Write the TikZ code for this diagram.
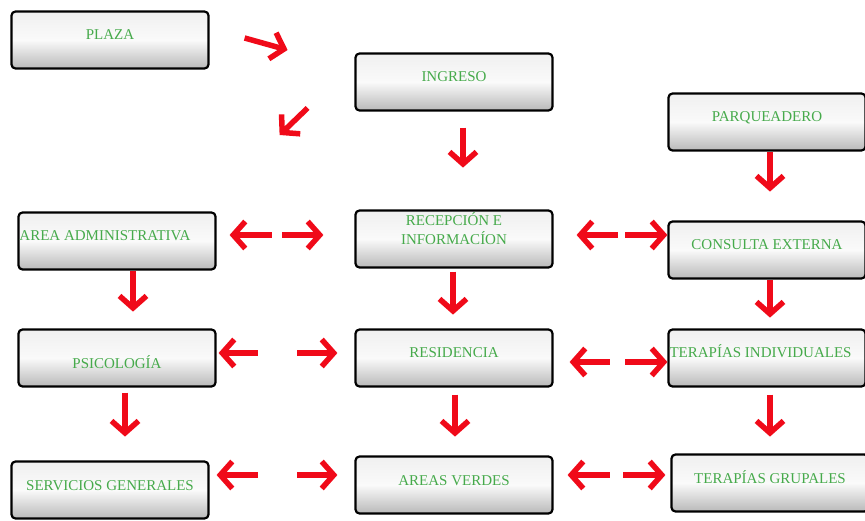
\documentclass[tikz,border=0pt]{standalone}
\usepackage{fontspec}
\setmainfont{Liberation Serif}
\usepackage{xcolor}
\usetikzlibrary{arrows.meta}
\definecolor{txtgreen}{RGB}{70,170,75}
\definecolor{arrred}{RGB}{240,10,25}

\begin{document}
\begin{tikzpicture}[x=1pt, y=-1pt,
  box/.style={draw=black, line width=2.2pt, rounded corners=4pt, minimum width=197pt, minimum height=57pt, inner sep=0pt,
    top color=gray!12, bottom color=gray!55, middle color=white!96!gray, text=txtgreen,
    font=\fontsize{15}{19}\selectfont, text height=11pt, text depth=11pt},
  flecha/.style={draw=arrred, line width=5.5pt, -{Straight Barb[length=12pt,width=27pt]}}]
\useasboundingbox (0,0) rectangle (865,521);

\node[box] (plaza) at (110,40) {PLAZA};
\node[box] (ingreso) at (454,82) {INGRESO};
\node[box] (parq) at (767,122) {PARQUEADERO};
\node[box, align=flush left, text width=195pt] (admin) at (117,241) {AREA ADMINISTRATIVA};
\node[box, align=center, text height=11pt, text depth=0pt] (recep) at (454,239) {RECEPCIÓN E\\INFORMACÍON};
\node[box] (consulta) at (767,250) {CONSULTA EXTERNA};
\node[box, text height=22pt, text depth=0pt] (psico) at (117,358) {PSICOLOGÍA};
\node[box] (resid) at (454,358) {RESIDENCIA};
\node[box, align=flush left, text width=195pt] (terind) at (767,358) {TERAPÍAS INDIVIDUALES};
\node[box] (servicios) at (110,490) {SERVICIOS GENERALES};
\node[box] (areas) at (454,485) {AREAS VERDES};
\node[box] (tergr) at (770,483) {TERAPÍAS GRUPALES};

\draw[flecha] ([xshift=35pt, yshift=2pt] plaza.east) -- ++(43,12);
\draw[flecha] ([xshift=98pt, yshift=-68pt] plaza.east) -- ++(-28,27);
\draw[flecha] ([xshift=9pt, yshift=-16pt] ingreso.south) -- ++(0,40);
\draw[flecha] ([xshift=3pt] parq.south) -- ++(0,40);

\draw[flecha] ([xshift=55pt, yshift=6pt] admin.east) -- ([xshift=13pt, yshift=6pt] admin.east);
\draw[flecha] ([xshift=-72pt, yshift=4pt] recep.west) -- ([xshift=-31pt, yshift=4pt] recep.west);
\draw[flecha] ([xshift=64pt, yshift=4pt] recep.east) -- ([xshift=23pt, yshift=4pt] recep.east);
\draw[flecha] ([xshift=-42pt, yshift=15pt] consulta.west) -- ([yshift=15pt] consulta.west);

\draw[flecha] ([xshift=16pt] admin.south) -- ++(0,41);
\draw[flecha] ([xshift=-1pt, yshift=-3pt] recep.south) -- ++(0,43);
\draw[flecha] ([xshift=3pt] consulta.south) -- ++(0,38);

\draw[flecha] ([xshift=41pt, yshift=5pt] psico.east) -- ([xshift=2pt, yshift=5pt] psico.east);
\draw[flecha] ([xshift=-57pt, yshift=5pt] resid.west) -- ([xshift=-17pt, yshift=5pt] resid.west);
\draw[flecha] ([xshift=56pt, yshift=-4pt] resid.east) -- ([xshift=16pt, yshift=-4pt] resid.east);
\draw[flecha] ([xshift=-42pt, yshift=-4pt] terind.west) -- ([yshift=-4pt] terind.west);

\draw[flecha] ([xshift=8pt, yshift=-5pt] psico.south) -- ++(0,44);
\draw[flecha] ([xshift=1pt, yshift=-7pt] resid.south) -- ++(0,42);
\draw[flecha] ([xshift=3pt, yshift=-7pt] terind.south) -- ++(0,42);

\draw[flecha] ([xshift=48pt, yshift=15pt] servicios.east) -- ([xshift=7pt, yshift=15pt] servicios.east);
\draw[flecha] ([xshift=-57pt, yshift=10pt] areas.west) -- ([xshift=-17pt, yshift=10pt] areas.west);
\draw[flecha] ([xshift=56pt, yshift=10pt] areas.east) -- ([xshift=14pt, yshift=10pt] areas.east);
\draw[flecha] ([xshift=-47pt, yshift=8pt] tergr.west) -- ([xshift=-5pt, yshift=8pt] tergr.west);
\end{tikzpicture}
\end{document}
